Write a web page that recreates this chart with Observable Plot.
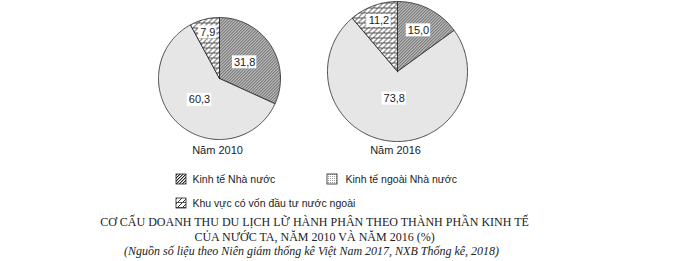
<!DOCTYPE html>
<html>
<head>
<meta charset="utf-8">
<script src="https://cdn.jsdelivr.net/npm/d3@7"></script>
<script src="https://cdn.jsdelivr.net/npm/@observablehq/plot@0.6"></script>
<style>
  html, body { margin: 0; padding: 0; background: white; }
</style>
</head>
<body>
<div id="chart"></div>
<script>
// ---- Data ----
const years = ["Năm 2010", "Năm 2016"];
const categories = ["Kinh tế Nhà nước", "Kinh tế ngoài Nhà nước", "Khu vực có vốn đầu tư nước ngoài"];
const values2010 = [31.8, 60.3, 7.9];
const values2016 = [15.0, 73.8, 11.2];
const titleLines = [
  "CƠ CẤU DOANH THU DU LỊCH LỮ HÀNH PHÂN THEO THÀNH PHẦN KINH TẾ",
  "CỦA NƯỚC TA, NĂM 2010 VÀ NĂM 2016 (%)"
];
const sourceLine = "(Nguồn số liệu theo Niên giám thống kê Việt Nam 2017, NXB Thống kê, 2018)";

// ---- Layout (not data) ----
const W = 683, H = 261;
const pieLayout = [
  {cx: 219, cy: 78, r: 61, labelR: [0.49, 0.48, 0.78]},
  {cx: 397, cy: 71, r: 70, labelR: [0.66, 0.39, 0.77]}
];
const patterns = ["url(#pState)", "url(#pDots)", "url(#pFdi)"];
const seriesValues = [values2010, values2016];
const fmt = v => v.toFixed(1).replace(".", ",");

// Build wedge outlines and label positions from the values
const wedges = [];
const labels = [];
seriesValues.forEach((vals, yi) => {
  const {cx, cy, r, labelR} = pieLayout[yi];
  const total = d3.sum(vals);
  let acc = 0;
  vals.forEach((v, ci) => {
    const a0 = acc / total * 2 * Math.PI;
    const a1 = (acc + v) / total * 2 * Math.PI;
    acc += v;
    const id = yi + "-" + ci;
    const pts = [{id, ci, x: cx, y: cy}];
    const n = Math.max(2, Math.ceil((a1 - a0) / (Math.PI / 180)));
    for (let k = 0; k <= n; k++) {
      const a = a0 + (a1 - a0) * k / n;
      pts.push({id, ci, x: cx + r * Math.sin(a), y: cy - r * Math.cos(a)});
    }
    pts.push({id, ci, x: cx, y: cy});
    wedges.push(...pts);
    const am = (a0 + a1) / 2;
    const text = fmt(v);
    const tw = [...text].reduce((s, c) => s + (c === "," ? 3.1 : 6.1), 0) + 3;
    labels.push({
      text,
      x: cx + labelR[ci] * r * Math.sin(am),
      y: cy - labelR[ci] * r * Math.cos(am),
      w: tw
    });
  });
});

const yearLabels = years.map((t, i) => ({text: t, x: pieLayout[i].cx - 2, y: 150}));

const legendItems = categories.map((c, i) => ({
  text: c,
  ci: i,
  x: i === 1 ? 327 : 176,
  y: i === 2 ? 203 : 179
}));

const titleData = [
  {text: titleLines[0], y: 222, italic: false},
  {text: titleLines[1], y: 237, italic: false},
  {text: sourceLine, y: 251, italic: true}
];

const sans = "'Liberation Sans', Arial, sans-serif";
const serif = "'Liberation Serif', 'Times New Roman', serif";

const marks = [];
// wedges, one mark per category for the pattern fill
categories.forEach((c, ci) => {
  marks.push(Plot.line(wedges.filter(d => d.ci === ci), {
    x: "x", y: "y", z: "id",
    fill: patterns[ci], stroke: "#222", strokeWidth: 0.8,
    curve: "linear-closed"
  }));
});
// label boxes
marks.push(Plot.rect(labels, {
  x1: d => d.x - d.w / 2, x2: d => d.x + d.w / 2,
  y1: d => d.y - 6.5, y2: d => d.y + 6.5,
  fill: "white"
}));
marks.push(Plot.text(labels, {
  x: "x", y: "y", text: "text", fontSize: 11, fill: "#222", fontFamily: sans
}));
marks.push(Plot.text(yearLabels, {
  x: "x", y: "y", text: "text", fontSize: 11, fill: "#222", fontFamily: sans
}));
// legend swatches
categories.forEach((c, ci) => {
  marks.push(Plot.rect(legendItems.filter(d => d.ci === ci), {
    x1: d => d.x, x2: d => d.x + 10,
    y1: d => d.y - 5, y2: d => d.y + 5,
    fill: patterns[ci], stroke: "#222", strokeWidth: 0.8
  }));
});
marks.push(Plot.text(legendItems, {
  x: d => d.x + (d.ci === 1 ? 18 : 16), y: "y", text: "text",
  textAnchor: "start", fontSize: 10.5, fill: "#222", fontFamily: sans
}));
// titles
marks.push(Plot.text(titleData.filter(d => !d.italic), {
  x: () => 314, y: "y", text: "text", fontSize: 12, fill: "#222", fontFamily: serif
}));
marks.push(Plot.text(titleData.filter(d => d.italic), {
  x: () => 311, y: "y", text: "text", fontSize: 12, fill: "#222", fontFamily: serif, fontStyle: "italic"
}));

const svg = Plot.plot({
  width: W, height: H, margin: 0,
  x: {domain: [0, W], range: [0, W], axis: null},
  y: {domain: [0, H], range: [0, H], axis: null},
  style: {background: "white", overflow: "visible"},
  marks
});

// pattern definitions (pixel-aligned tiles)
const defs = d3.select(svg).insert("defs", ":first-child");
const p0 = defs.append("pattern").attr("id", "pState").attr("patternUnits", "userSpaceOnUse")
  .attr("width", 3).attr("height", 3);
p0.append("rect").attr("width", 3).attr("height", 3).attr("fill", "white");
for (let x = 0; x < 3; x++) for (let y = 0; y < 3; y++) {
  const k = (x + y) % 3;
  if (k === 2) p0.append("rect").attr("x", x).attr("y", y).attr("width", 1).attr("height", 1).attr("fill", "#2a2a2a");
  if (k === 0) p0.append("rect").attr("x", x).attr("y", y).attr("width", 1).attr("height", 1).attr("fill", "#a8a8a8");
}
const p1 = defs.append("pattern").attr("id", "pDots").attr("patternUnits", "userSpaceOnUse")
  .attr("width", 2).attr("height", 2);
p1.append("rect").attr("width", 2).attr("height", 2).attr("fill", "white");
p1.append("rect").attr("width", 1).attr("height", 1).attr("fill", "#9a9a9a");
const p2 = defs.append("pattern").attr("id", "pFdi").attr("patternUnits", "userSpaceOnUse")
  .attr("width", 5).attr("height", 5);
p2.append("rect").attr("width", 5).attr("height", 5).attr("fill", "white");
for (let i = 0; i < 5; i++) {
  p2.append("rect").attr("x", i).attr("y", 4 - i).attr("width", 1).attr("height", 1).attr("fill", "#333");
}
p2.append("rect").attr("x", 0).attr("y", 2).attr("width", 5).attr("height", 1).attr("fill", "#555");

document.getElementById("chart").appendChild(svg);
</script>
</body>
</html>
